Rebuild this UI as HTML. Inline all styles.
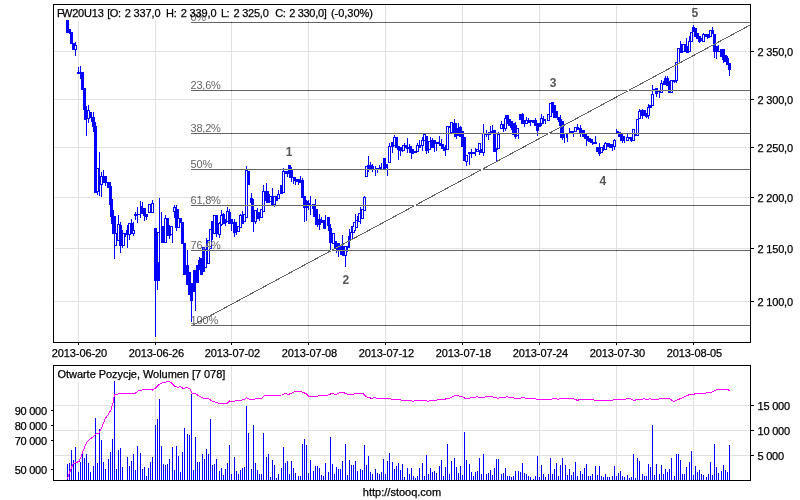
<!DOCTYPE html><html><head><meta charset="utf-8"><style>html,body{margin:0;padding:0;background:#fff;width:800px;height:500px;overflow:hidden}</style></head><body><svg width="800" height="500" viewBox="0 0 800 500" style="position:absolute;left:0;top:0;will-change:transform">
<rect x="0" y="0" width="800" height="500" fill="#fff"/>
<g shape-rendering="crispEdges">
<rect x="78" y="5" width="1" height="337" fill="#e0e0e0"/>
<rect x="78" y="366" width="1" height="114" fill="#e0e0e0"/>
<rect x="155" y="5" width="1" height="337" fill="#e0e0e0"/>
<rect x="155" y="366" width="1" height="114" fill="#e0e0e0"/>
<rect x="231" y="5" width="1" height="337" fill="#e0e0e0"/>
<rect x="231" y="366" width="1" height="114" fill="#e0e0e0"/>
<rect x="308" y="5" width="1" height="337" fill="#e0e0e0"/>
<rect x="308" y="366" width="1" height="114" fill="#e0e0e0"/>
<rect x="385" y="5" width="1" height="337" fill="#e0e0e0"/>
<rect x="385" y="366" width="1" height="114" fill="#e0e0e0"/>
<rect x="462" y="5" width="1" height="337" fill="#e0e0e0"/>
<rect x="462" y="366" width="1" height="114" fill="#e0e0e0"/>
<rect x="539" y="5" width="1" height="337" fill="#e0e0e0"/>
<rect x="539" y="366" width="1" height="114" fill="#e0e0e0"/>
<rect x="616" y="5" width="1" height="337" fill="#e0e0e0"/>
<rect x="616" y="366" width="1" height="114" fill="#e0e0e0"/>
<rect x="693" y="5" width="1" height="337" fill="#e0e0e0"/>
<rect x="693" y="366" width="1" height="114" fill="#e0e0e0"/>
<rect x="54" y="51" width="696" height="1" fill="#e0e0e0"/>
<rect x="54" y="99" width="696" height="1" fill="#e0e0e0"/>
<rect x="54" y="147" width="696" height="1" fill="#e0e0e0"/>
<rect x="54" y="197" width="696" height="1" fill="#e0e0e0"/>
<rect x="54" y="248" width="696" height="1" fill="#e0e0e0"/>
<rect x="54" y="301" width="696" height="1" fill="#e0e0e0"/>
<rect x="54" y="405" width="696" height="1" fill="#e0e0e0"/>
<rect x="54" y="430" width="696" height="1" fill="#e0e0e0"/>
<rect x="54" y="455" width="696" height="1" fill="#e0e0e0"/>
<rect x="54" y="5" width="325" height="16" fill="#fff"/>
<rect x="54" y="366" width="175" height="16" fill="#fff"/>
</g>
<g shape-rendering="crispEdges">
<path d="M75 42h1v14h-1zM78 67h1v7h-1zM80 66h1v8h-1zM86 110h1v26h-1zM88 105h1v18h-1zM91 112h1v10h-1zM93 112h1v8h-1zM97 168h1v27h-1zM99 152h1v44h-1zM101 172h1v25h-1zM103 170h1v10h-1zM105 176h1v10h-1zM114 225h1v34h-1zM118 215h1v9h-1zM120 222h1v31h-1zM122 230h1v18h-1zM127 225h1v23h-1zM129 224h1v16h-1zM131 219h1v15h-1zM133 222h1v14h-1zM135 212h1v8h-1zM137 207h1v16h-1zM140 201h1v17h-1zM142 202h1v12h-1zM144 208h1v13h-1zM146 214h1v6h-1zM152 200h1v11h-1zM155 228h1v109h-1zM157 281h1v9h-1zM161 212h1v14h-1zM159 198h1v65h-1zM165 215h1v28h-1zM169 225h1v14h-1zM172 226h1v17h-1zM174 205h1v7h-1zM176 205h1v26h-1zM187 250h1v25h-1zM191 301h1v21h-1zM195 292h1v19h-1zM199 257h1v13h-1zM206 238h1v11h-1zM216 225h1v12h-1zM219 222h1v16h-1zM221 210h1v16h-1zM223 213h1v11h-1zM225 219h1v7h-1zM227 207h1v15h-1zM229 209h1v13h-1zM231 219h1v12h-1zM234 219h1v18h-1zM236 222h1v13h-1zM240 214h1v14h-1zM242 211h1v13h-1zM246 166h1v52h-1zM251 193h1v10h-1zM253 222h1v10h-1zM255 212h1v12h-1zM257 208h1v11h-1zM259 212h1v9h-1zM263 185h1v27h-1zM266 183h1v20h-1zM272 188h1v14h-1zM274 196h1v11h-1zM278 190h1v9h-1zM283 168h1v25h-1zM287 171h1v6h-1zM291 169h1v13h-1zM293 178h1v6h-1zM295 178h1v7h-1zM298 179h1v6h-1zM300 176h1v7h-1zM302 178h1v20h-1zM304 196h1v26h-1zM306 200h1v21h-1zM308 200h1v10h-1zM310 196h1v19h-1zM315 199h1v10h-1zM317 209h1v18h-1zM319 214h1v16h-1zM321 217h1v6h-1zM325 215h1v14h-1zM330 228h1v23h-1zM336 241h1v12h-1zM338 246h1v11h-1zM342 235h1v20h-1zM345 246h1v21h-1zM347 246h1v6h-1zM349 229h1v19h-1zM351 226h1v14h-1zM355 214h1v17h-1zM357 216h1v12h-1zM360 207h1v17h-1zM364 196h1v15h-1zM368 156h1v16h-1zM370 162h1v7h-1zM372 164h1v8h-1zM375 166h1v10h-1zM377 168h1v5h-1zM379 165h1v5h-1zM381 163h1v6h-1zM387 164h1v12h-1zM389 143h1v20h-1zM392 142h1v11h-1zM394 135h1v11h-1zM398 146h1v14h-1zM400 147h1v9h-1zM402 145h1v7h-1zM404 143h1v5h-1zM407 138h1v15h-1zM409 144h1v5h-1zM411 149h1v10h-1zM417 143h1v9h-1zM419 140h1v8h-1zM422 137h1v14h-1zM426 136h1v18h-1zM428 141h1v12h-1zM430 137h1v11h-1zM432 138h1v10h-1zM434 140h1v12h-1zM436 142h1v9h-1zM439 136h1v10h-1zM441 139h1v10h-1zM445 145h1v11h-1zM454 119h1v15h-1zM456 123h1v16h-1zM458 123h1v13h-1zM460 126h1v11h-1zM466 155h1v11h-1zM469 152h1v13h-1zM471 149h1v9h-1zM475 148h1v8h-1zM479 143h1v12h-1zM483 124h1v32h-1zM486 130h1v7h-1zM488 133h1v7h-1zM490 126h1v9h-1zM492 125h1v9h-1zM496 148h1v13h-1zM498 132h1v17h-1zM501 121h1v8h-1zM503 124h1v8h-1zM505 115h1v16h-1zM511 121h1v9h-1zM515 122h1v17h-1zM518 128h1v11h-1zM522 113h1v11h-1zM524 120h1v7h-1zM526 117h1v7h-1zM528 118h1v5h-1zM530 120h1v6h-1zM535 118h1v8h-1zM537 123h1v13h-1zM541 114h1v12h-1zM543 116h1v8h-1zM545 119h1v5h-1zM552 102h1v11h-1zM558 117h1v5h-1zM560 115h1v6h-1zM562 133h1v7h-1zM564 134h1v9h-1zM567 134h1v8h-1zM569 128h1v6h-1zM573 131h1v6h-1zM577 124h1v6h-1zM580 125h1v12h-1zM586 133h1v13h-1zM592 139h1v6h-1zM595 136h1v8h-1zM599 143h1v13h-1zM603 145h1v6h-1zM605 142h1v8h-1zM612 144h1v7h-1zM614 139h1v11h-1zM616 129h1v4h-1zM622 136h1v7h-1zM624 136h1v7h-1zM627 134h1v7h-1zM631 137h1v5h-1zM639 109h1v10h-1zM642 109h1v10h-1zM646 113h1v5h-1zM648 104h1v15h-1zM652 85h1v21h-1zM656 88h1v9h-1zM659 90h1v8h-1zM661 80h1v13h-1zM665 76h1v8h-1zM667 76h1v10h-1zM674 80h1v3h-1zM676 62h1v21h-1zM680 41h1v12h-1zM686 38h1v14h-1zM689 36h1v16h-1zM693 25h1v7h-1zM699 36h1v7h-1zM703 33h1v9h-1zM707 34h1v5h-1zM712 27h1v7h-1zM714 34h1v24h-1zM716 46h1v13h-1zM718 45h1v7h-1zM723 49h1v14h-1zM727 56h1v9h-1zM729 63h1v13h-1zM66 20h3v13h-3zM69 29h2v5h-2zM70 32h3v12h-3zM72 43h3v7h-3zM77 72h3v2h-3zM80 72h2v7h-2zM81 72h3v18h-3zM83 88h3v22h-3zM84 106h3v14h-3zM90 112h2v6h-2zM92 117h3v10h-3zM93 122h3v10h-3zM94 126h3v67h-3zM98 180h2v6h-2zM103 176h4v7h-4zM107 182h4v6h-4zM109 186h3v6h-3zM109 190h3v15h-3zM110 199h3v18h-3zM111 210h3v14h-3zM112 216h4v18h-4zM119 225h3v21h-3zM124 233h2v4h-2zM126 230h2v5h-2zM130 223h3v11h-3zM134 214h3v2h-3zM138 214h3v1h-3zM140 206h3v8h-3zM143 208h3v8h-3zM145 214h3v3h-3zM154 228h3v53h-3zM157 263h3v18h-3zM161 226h3v17h-3zM166 218h3v18h-3zM169 227h2v9h-2zM174 207h3v11h-3zM176 209h3v11h-3zM175 213h3v15h-3zM179 218h3v5h-3zM181 222h3v22h-3zM183 243h3v32h-3zM186 265h3v20h-3zM188 272h3v23h-3zM190 283h3v18h-3zM193 270h3v22h-3zM196 265h3v18h-3zM195 270h3v5h-3zM200 258h3v17h-3zM202 247h3v25h-3zM211 221h2v19h-2zM215 215h3v19h-3zM222 214h3v10h-3zM228 212h3v12h-3zM230 219h3v5h-3zM233 222h2v11h-2zM235 222h2v11h-2zM241 216h3v8h-3zM247 171h3v14h-3zM250 198h3v5h-3zM251 199h3v23h-3zM257 212h3v7h-3zM264 191h3v10h-3zM266 191h3v12h-3zM268 194h2v9h-2zM271 196h3v9h-3zM275 196h3v5h-3zM280 185h3v9h-3zM285 171h4v3h-4zM288 165h3v7h-3zM289 167h3v11h-3zM290 169h3v9h-3zM293 177h3v4h-3zM296 179h3v3h-3zM298 179h3v4h-3zM301 180h3v18h-3zM303 196h3v12h-3zM305 201h3v7h-3zM307 203h4v3h-4zM312 204h3v5h-3zM313 206h3v11h-3zM315 209h3v16h-3zM318 219h3v6h-3zM321 220h3v3h-3zM323 220h3v9h-3zM327 217h3v9h-3zM328 224h3v7h-3zM329 228h3v15h-3zM334 241h3v7h-3zM337 243h3v7h-3zM340 245h3v10h-3zM342 246h3v10h-3zM367 165h3v4h-3zM369 165h3v4h-3zM371 166h3v3h-3zM375 168h5v2h-5zM379 167h3v2h-3zM383 158h3v11h-3zM385 164h3v4h-3zM391 142h3v5h-3zM395 137h3v11h-3zM397 146h3v4h-3zM399 147h3v4h-3zM404 145h3v3h-3zM406 147h3v2h-3zM409 146h3v7h-3zM411 149h3v5h-3zM414 151h3v2h-3zM418 145h3v3h-3zM425 136h3v15h-3zM431 140h3v8h-3zM433 140h3v4h-3zM436 142h4v2h-4zM439 143h3v3h-3zM441 144h3v5h-3zM443 147h3v4h-3zM448 126h3v2h-3zM452 123h3v11h-3zM454 123h3v14h-3zM457 128h3v8h-3zM459 127h3v10h-3zM461 131h3v16h-3zM463 137h3v24h-3zM470 152h4v2h-4zM473 152h3v2h-3zM480 149h3v4h-3zM485 133h3v2h-3zM488 132h3v3h-3zM491 131h3v3h-3zM493 130h3v22h-3zM495 148h3v2h-3zM506 115h3v9h-3zM508 119h3v7h-3zM510 121h3v7h-3zM512 123h3v12h-3zM514 125h3v12h-3zM519 114h3v6h-3zM521 114h3v10h-3zM522 120h3v3h-3zM527 120h3v3h-3zM532 120h3v3h-3zM534 120h3v6h-3zM536 123h3v8h-3zM538 123h3v4h-3zM543 119h3v2h-3zM551 102h3v11h-3zM553 105h3v13h-3zM555 111h3v7h-3zM557 117h3v3h-3zM559 119h3v7h-3zM560 121h4v17h-4zM562 133h3v5h-3zM566 134h2v4h-2zM569 131h3v3h-3zM571 131h3v3h-3zM576 127h3v3h-3zM579 128h3v5h-3zM582 130h3v7h-3zM584 133h3v6h-3zM586 136h3v5h-3zM588 138h3v4h-3zM590 139h3v4h-3zM593 142h4v2h-4zM596 147h3v5h-3zM598 148h3v6h-3zM607 143h3v4h-3zM609 144h4v4h-4zM616 131h3v2h-3zM618 132h3v5h-3zM620 134h3v7h-3zM622 136h3v5h-3zM628 137h3v2h-3zM630 137h3v4h-3zM634 133h3v3h-3zM640 110h3v6h-3zM643 110h3v6h-3zM645 113h3v4h-3zM649 105h3v3h-3zM653 89h3v2h-3zM655 88h3v6h-3zM657 90h3v2h-3zM663 81h3v4h-3zM664 78h3v6h-3zM666 78h3v8h-3zM668 81h3v12h-3zM673 80h3v2h-3zM680 44h3v9h-3zM684 44h3v8h-3zM686 46h3v7h-3zM692 27h3v5h-3zM694 28h3v9h-3zM696 33h3v6h-3zM698 36h3v6h-3zM700 38h3v3h-3zM705 34h3v3h-3zM707 34h3v4h-3zM711 30h3v4h-3zM713 34h3v18h-3zM715 46h3v6h-3zM718 51h3v1h-3zM720 49h3v8h-3zM722 49h3v11h-3zM724 55h3v7h-3zM726 58h3v7h-3zM728 63h3v7h-3z" fill="#0000ff"/>
<path d="M74 45h3v5h-3zM87 110h3v9h-3zM96 168h3v24h-3zM100 176h3v9h-3zM114 233h3v13h-3zM117 224h3v17h-3zM122 233h3v13h-3zM128 223h3v12h-3zM132 230h3v4h-3zM148 204h3v9h-3zM151 203h3v10h-3zM157 232h3v31h-3zM164 218h3v25h-3zM170 226h3v9h-3zM173 207h3v5h-3zM177 218h3v10h-3zM198 260h2v10h-2zM204 249h3v19h-3zM207 240h3v24h-3zM209 229h3v20h-3zM213 215h3v19h-3zM218 223h3v12h-3zM220 215h3v10h-3zM225 219h2v4h-2zM226 211h3v11h-3zM237 226h3v6h-3zM239 215h3v13h-3zM243 214h3v8h-3zM245 170h3v48h-3zM254 210h3v12h-3zM260 209h3v9h-3zM262 191h3v21h-3zM269 196h3v6h-3zM273 196h3v9h-3zM277 194h3v5h-3zM282 171h3v22h-3zM332 233h3v11h-3zM344 246h3v10h-3zM348 236h2v12h-2zM350 232h3v8h-3zM352 226h3v7h-3zM353 222h3v9h-3zM355 220h3v8h-3zM358 213h3v9h-3zM361 209h3v10h-3zM363 197h3v14h-3zM365 166h3v11h-3zM388 146h3v17h-3zM393 137h3v9h-3zM402 145h3v6h-3zM416 145h3v7h-3zM421 140h3v6h-3zM423 134h3v7h-3zM428 141h3v9h-3zM446 126h3v24h-3zM450 122h3v11h-3zM465 155h3v7h-3zM468 152h3v2h-3zM476 149h3v3h-3zM478 143h3v8h-3zM482 133h3v20h-3zM497 134h3v15h-3zM500 124h3v5h-3zM504 118h3v11h-3zM516 128h3v8h-3zM525 120h3v4h-3zM529 120h3v2h-3zM540 118h3v6h-3zM547 114h3v7h-3zM549 103h3v14h-3zM574 127h3v5h-3zM600 147h3v6h-3zM604 143h3v7h-3zM613 140h3v7h-3zM626 137h3v4h-3zM632 129h3v12h-3zM636 119h3v17h-3zM638 111h3v8h-3zM647 107h3v9h-3zM651 94h3v12h-3zM660 83h3v10h-3zM670 80h3v13h-3zM675 62h3v19h-3zM677 48h3v16h-3zM682 44h3v8h-3zM688 41h3v11h-3zM690 32h3v10h-3zM702 34h3v8h-3zM709 30h3v7h-3z" fill="#0000ff"/>
<path d="M75 46h1v3h-1zM88 111h1v7h-1zM97 169h1v22h-1zM101 177h1v7h-1zM115 234h1v11h-1zM118 225h1v15h-1zM123 234h1v11h-1zM129 224h1v10h-1zM133 231h1v2h-1zM149 205h1v7h-1zM152 204h1v8h-1zM158 233h1v29h-1zM165 219h1v23h-1zM171 227h1v7h-1zM174 208h1v3h-1zM178 219h1v8h-1zM205 250h1v17h-1zM208 241h1v22h-1zM210 230h1v18h-1zM214 216h1v17h-1zM219 224h1v10h-1zM221 216h1v8h-1zM227 212h1v9h-1zM238 227h1v4h-1zM240 216h1v11h-1zM244 215h1v6h-1zM246 171h1v46h-1zM255 211h1v10h-1zM261 210h1v7h-1zM263 192h1v19h-1zM270 197h1v4h-1zM274 197h1v7h-1zM278 195h1v3h-1zM283 172h1v20h-1zM333 234h1v9h-1zM345 247h1v8h-1zM351 233h1v6h-1zM353 227h1v5h-1zM354 223h1v7h-1zM356 221h1v6h-1zM359 214h1v7h-1zM362 210h1v8h-1zM364 198h1v12h-1zM366 167h1v9h-1zM389 147h1v15h-1zM394 138h1v7h-1zM403 146h1v4h-1zM417 146h1v5h-1zM422 141h1v4h-1zM424 135h1v5h-1zM429 142h1v7h-1zM447 127h1v22h-1zM451 123h1v9h-1zM466 156h1v5h-1zM477 150h1v1h-1zM479 144h1v6h-1zM483 134h1v18h-1zM498 135h1v13h-1zM501 125h1v3h-1zM505 119h1v9h-1zM517 129h1v6h-1zM526 121h1v2h-1zM541 119h1v4h-1zM548 115h1v5h-1zM550 104h1v12h-1zM575 128h1v3h-1zM601 148h1v4h-1zM605 144h1v5h-1zM614 141h1v5h-1zM627 138h1v2h-1zM633 130h1v10h-1zM637 120h1v15h-1zM639 112h1v6h-1zM648 108h1v7h-1zM652 95h1v10h-1zM661 84h1v8h-1zM671 81h1v11h-1zM676 63h1v17h-1zM678 49h1v14h-1zM683 45h1v6h-1zM689 42h1v9h-1zM691 33h1v8h-1zM703 35h1v6h-1zM710 31h1v5h-1z" fill="#fff"/>
<path d="M67 464h1v16h-1zM69 463h1v17h-1zM71 450h1v30h-1zM73 460h1v20h-1zM75 447h1v33h-1zM78 472h1v8h-1zM80 462h1v18h-1zM82 454h1v26h-1zM84 458h1v22h-1zM86 454h1v26h-1zM88 463h1v17h-1zM90 472h1v8h-1zM93 466h1v14h-1zM95 418h1v62h-1zM97 463h1v17h-1zM99 429h1v51h-1zM101 440h1v40h-1zM103 462h1v18h-1zM105 469h1v11h-1zM108 459h1v21h-1zM110 452h1v28h-1zM112 439h1v41h-1zM114 381h1v99h-1zM116 469h1v11h-1zM118 450h1v30h-1zM120 448h1v32h-1zM122 467h1v13h-1zM127 457h1v23h-1zM129 466h1v14h-1zM131 461h1v19h-1zM133 454h1v26h-1zM135 470h1v10h-1zM137 446h1v34h-1zM140 453h1v27h-1zM142 469h1v11h-1zM144 467h1v13h-1zM146 476h1v4h-1zM148 468h1v12h-1zM150 462h1v18h-1zM152 457h1v23h-1zM155 425h1v55h-1zM157 419h1v61h-1zM159 399h1v81h-1zM161 446h1v34h-1zM163 464h1v16h-1zM165 465h1v15h-1zM167 464h1v16h-1zM169 459h1v21h-1zM172 447h1v33h-1zM174 470h1v10h-1zM176 446h1v34h-1zM178 456h1v24h-1zM180 472h1v8h-1zM182 452h1v28h-1zM184 428h1v52h-1zM187 434h1v46h-1zM189 435h1v45h-1zM191 394h1v86h-1zM193 470h1v10h-1zM195 437h1v43h-1zM197 462h1v18h-1zM199 462h1v18h-1zM202 454h1v26h-1zM204 459h1v21h-1zM206 449h1v31h-1zM208 454h1v26h-1zM210 419h1v61h-1zM212 465h1v15h-1zM214 464h1v16h-1zM216 459h1v21h-1zM219 471h1v9h-1zM221 468h1v12h-1zM223 475h1v5h-1zM225 469h1v11h-1zM227 463h1v17h-1zM229 445h1v35h-1zM231 474h1v6h-1zM234 457h1v23h-1zM236 471h1v9h-1zM238 474h1v6h-1zM240 470h1v10h-1zM242 468h1v12h-1zM244 467h1v13h-1zM246 406h1v74h-1zM248 433h1v47h-1zM251 469h1v11h-1zM253 425h1v55h-1zM255 463h1v17h-1zM257 470h1v10h-1zM259 474h1v6h-1zM261 474h1v6h-1zM263 433h1v47h-1zM266 457h1v23h-1zM268 454h1v26h-1zM270 477h1v3h-1zM272 460h1v20h-1zM274 465h1v15h-1zM276 478h1v2h-1zM278 474h1v6h-1zM281 468h1v12h-1zM283 447h1v33h-1zM285 463h1v17h-1zM287 461h1v19h-1zM289 474h1v6h-1zM291 461h1v19h-1zM293 468h1v12h-1zM295 473h1v7h-1zM298 476h1v4h-1zM300 476h1v4h-1zM302 444h1v36h-1zM304 439h1v41h-1zM306 445h1v35h-1zM308 473h1v7h-1zM310 460h1v20h-1zM313 471h1v9h-1zM315 466h1v14h-1zM317 466h1v14h-1zM319 468h1v12h-1zM321 475h1v5h-1zM323 476h1v4h-1zM325 463h1v17h-1zM328 472h1v8h-1zM330 437h1v43h-1zM332 464h1v16h-1zM334 474h1v6h-1zM336 467h1v13h-1zM338 469h1v11h-1zM340 469h1v11h-1zM342 461h1v19h-1zM345 444h1v36h-1zM347 475h1v5h-1zM349 460h1v20h-1zM351 465h1v15h-1zM353 465h1v15h-1zM355 461h1v19h-1zM357 471h1v9h-1zM360 469h1v11h-1zM362 470h1v10h-1zM364 445h1v35h-1zM366 465h1v15h-1zM368 456h1v24h-1zM370 472h1v8h-1zM372 474h1v6h-1zM375 469h1v11h-1zM377 473h1v7h-1zM379 474h1v6h-1zM381 472h1v8h-1zM383 459h1v21h-1zM385 474h1v6h-1zM387 461h1v19h-1zM389 453h1v27h-1zM392 462h1v18h-1zM394 469h1v11h-1zM396 466h1v14h-1zM398 463h1v17h-1zM400 470h1v10h-1zM402 464h1v16h-1zM404 477h1v3h-1zM407 468h1v12h-1zM409 474h1v6h-1zM411 468h1v12h-1zM413 476h1v4h-1zM415 478h1v2h-1zM417 476h1v4h-1zM419 468h1v12h-1zM422 463h1v17h-1zM424 476h1v4h-1zM426 455h1v25h-1zM428 474h1v6h-1zM430 468h1v12h-1zM432 472h1v8h-1zM434 471h1v9h-1zM436 473h1v7h-1zM439 466h1v14h-1zM441 460h1v20h-1zM443 476h1v4h-1zM445 467h1v13h-1zM447 444h1v36h-1zM449 474h1v6h-1zM451 461h1v19h-1zM454 458h1v22h-1zM456 467h1v13h-1zM458 473h1v7h-1zM460 466h1v14h-1zM462 475h1v5h-1zM464 432h1v48h-1zM466 460h1v20h-1zM469 464h1v16h-1zM471 472h1v8h-1zM473 476h1v4h-1zM475 472h1v8h-1zM477 471h1v9h-1zM479 458h1v22h-1zM481 474h1v6h-1zM483 454h1v26h-1zM486 474h1v6h-1zM488 473h1v7h-1zM490 470h1v10h-1zM492 475h1v5h-1zM494 468h1v12h-1zM496 459h1v21h-1zM498 459h1v21h-1zM501 474h1v6h-1zM503 473h1v7h-1zM505 468h1v12h-1zM507 476h1v4h-1zM509 476h1v4h-1zM511 477h1v3h-1zM513 476h1v4h-1zM515 471h1v9h-1zM518 471h1v9h-1zM520 472h1v8h-1zM522 463h1v17h-1zM524 473h1v7h-1zM526 474h1v6h-1zM528 476h1v4h-1zM530 477h1v3h-1zM533 479h1v1h-1zM535 476h1v4h-1zM537 456h1v24h-1zM539 477h1v3h-1zM541 465h1v15h-1zM543 474h1v6h-1zM545 477h1v3h-1zM548 474h1v6h-1zM550 458h1v22h-1zM552 474h1v6h-1zM554 469h1v11h-1zM556 463h1v17h-1zM558 476h1v4h-1zM560 465h1v15h-1zM562 458h1v22h-1zM565 465h1v15h-1zM567 475h1v5h-1zM569 469h1v11h-1zM571 475h1v5h-1zM573 472h1v8h-1zM575 462h1v18h-1zM577 476h1v4h-1zM580 471h1v9h-1zM582 474h1v6h-1zM584 468h1v12h-1zM586 464h1v16h-1zM588 476h1v4h-1zM590 476h1v4h-1zM592 474h1v6h-1zM595 466h1v14h-1zM597 475h1v5h-1zM599 466h1v14h-1zM601 476h1v4h-1zM603 477h1v3h-1zM605 474h1v6h-1zM607 477h1v3h-1zM609 477h1v3h-1zM612 476h1v4h-1zM614 466h1v14h-1zM616 476h1v4h-1zM618 473h1v7h-1zM620 471h1v9h-1zM622 476h1v4h-1zM624 477h1v3h-1zM627 475h1v5h-1zM629 478h1v2h-1zM631 477h1v3h-1zM633 454h1v26h-1zM635 478h1v2h-1zM637 458h1v22h-1zM639 461h1v19h-1zM642 474h1v6h-1zM644 476h1v4h-1zM646 476h1v4h-1zM648 464h1v16h-1zM650 467h1v13h-1zM652 425h1v55h-1zM654 475h1v5h-1zM656 464h1v16h-1zM659 474h1v6h-1zM661 465h1v15h-1zM663 474h1v6h-1zM665 469h1v11h-1zM667 472h1v8h-1zM669 469h1v11h-1zM671 458h1v22h-1zM674 476h1v4h-1zM676 454h1v26h-1zM678 454h1v26h-1zM680 460h1v20h-1zM682 474h1v6h-1zM684 474h1v6h-1zM686 467h1v13h-1zM689 462h1v18h-1zM691 451h1v29h-1zM693 475h1v5h-1zM695 466h1v14h-1zM697 472h1v8h-1zM699 470h1v10h-1zM701 474h1v6h-1zM703 475h1v5h-1zM706 477h1v3h-1zM708 474h1v6h-1zM710 462h1v18h-1zM712 475h1v5h-1zM714 444h1v36h-1zM716 467h1v13h-1zM718 473h1v7h-1zM721 471h1v9h-1zM723 465h1v15h-1zM725 470h1v10h-1zM727 472h1v8h-1zM729 445h1v35h-1z" fill="#0000ff"/>
</g>
<g style="mix-blend-mode:difference">
<g shape-rendering="crispEdges">
<rect x="191" y="22" width="559" height="1" fill="#9b9b9b"/>
<rect x="191" y="90" width="559" height="1" fill="#9b9b9b"/>
<rect x="191" y="133" width="559" height="1" fill="#9b9b9b"/>
<rect x="191" y="169" width="559" height="1" fill="#9b9b9b"/>
<rect x="191" y="205" width="559" height="1" fill="#9b9b9b"/>
<rect x="191" y="250" width="559" height="1" fill="#9b9b9b"/>
<rect x="191" y="325" width="559" height="1" fill="#9b9b9b"/>
<line x1="191.5" y1="325.8" x2="750.5" y2="24.8" stroke="#9b9b9b" stroke-width="1"/>
</g>
<g font-family="Liberation Sans, sans-serif" font-size="11px">
<text x="190.6" y="20.5" fill="#999999" textLength="15.5" lengthAdjust="spacing">0%</text>
<text x="190.6" y="88.5" fill="#999999" textLength="30.2" lengthAdjust="spacing">23,6%</text>
<text x="190.6" y="131.5" fill="#999999" textLength="30.2" lengthAdjust="spacing">38,2%</text>
<text x="190.6" y="167.5" fill="#999999" textLength="21.6" lengthAdjust="spacing">50%</text>
<text x="190.6" y="203.5" fill="#999999" textLength="30.2" lengthAdjust="spacing">61,8%</text>
<text x="190.6" y="248.5" fill="#999999" textLength="30.2" lengthAdjust="spacing">76,4%</text>
<text x="190.6" y="323.5" fill="#999999" textLength="27.6" lengthAdjust="spacing">100%</text>
</g>
</g>
<rect x="627" y="90" width="2" height="1" fill="#fff" shape-rendering="crispEdges"/>
<rect x="548" y="133" width="2" height="1" fill="#fff" shape-rendering="crispEdges"/>
<rect x="481" y="169" width="2" height="1" fill="#fff" shape-rendering="crispEdges"/>
<rect x="414" y="205" width="2" height="1" fill="#fff" shape-rendering="crispEdges"/>
<rect x="330" y="250" width="2" height="1" fill="#fff" shape-rendering="crispEdges"/>
<polyline points="67.4,479 69,474 71,469 73,464 76,462.4 79,461.6 81,457 82.4,453 85,446 87,442 90,439 93,437 96,434 99,433 102,427 105,419 108,415 111,410 113,403 114.4,395 118,394 135,393.4 139,390.4 146,389.4 149,389 152.4,390 155,388.4 159,384.4 163,382.4 169,381.6 171,382.4 175,386.4 178,387.4 180,386.4 183,388.4 187,387.6 190,389 192,393 195,393.6 200,396.4 204,398.4 208,398.4 212,401 216,402.4 219,403.4 227,403.4 229.4,401 232,402 235,401 241,400.4 244.6,399.4 246.4,397.6 249,399 251.4,400 255,399 261.4,398.4 265,395.4 282,395 285,393.4 288.6,394.4 292,393 295,391.4 300,391.4 303,392.4 306,393.6 309,396.4 317,396.4 319,395.4 328,395 332,393.4 336,394.4 340,392.4 343,392.4 348,394.4 353,394.4 355,393.4 363,393.6 366.6,397 372,398.4 374.4,397.4 377,398.4 390,398.6 392,399.4 400,399.4 402,400.4 411,400.4 413,401.4 415,400.4 426,400.4 428,401.4 430,400.4 437,400 439,399.4 445,399.2 447,398.4 450,398 454,396 457,395 460,396.4 462,396.4 465,398.4 469,398.4 471,397.4 475,397.4 477,396.4 479,397.4 484,397.4 486,396.4 492,396.4 494,397.4 496,397.4 498,398.4 501,397.4 505,397.4 507,396.4 509,397.4 513,397.4 515,398.4 520,398.4 522,397.4 524,397.4 526,398.4 535,398.4 537,399.4 551,399.4 553,398.4 556,398.4 558,399.4 560,398.4 573,398.4 575,399.4 577.4,400.4 580,399.4 593,399.4 595,400.4 612,400.4 614,399.4 625,399.4 627,398.4 630,398.4 634,400.6 637,399.4 642,399.4 644,398.4 646,399.4 648,399.4 650,398.4 652,399.4 658,399.4 661,398.4 669,398.4 671.4,400 674,401.4 677,400 681,398.4 686,396 690,394.4 693,395 695,393.6 698,394 706,393 712,392 716,390 723,389.6 726,389 728,389.4 729.6,391.4" fill="none" stroke="#ff00ff" stroke-width="1" shape-rendering="crispEdges"/>
<g shape-rendering="crispEdges">
<rect x="53.5" y="4.5" width="697" height="338" fill="none" stroke="#000" stroke-width="1"/>
<rect x="53.5" y="365.5" width="697" height="115" fill="none" stroke="#000" stroke-width="1"/>
<rect x="78" y="343" width="1" height="2" fill="#000"/>
<rect x="155" y="343" width="1" height="2" fill="#000"/>
<rect x="231" y="343" width="1" height="2" fill="#000"/>
<rect x="308" y="343" width="1" height="2" fill="#000"/>
<rect x="385" y="343" width="1" height="2" fill="#000"/>
<rect x="462" y="343" width="1" height="2" fill="#000"/>
<rect x="539" y="343" width="1" height="2" fill="#000"/>
<rect x="616" y="343" width="1" height="2" fill="#000"/>
<rect x="693" y="343" width="1" height="2" fill="#000"/>
<rect x="751" y="51" width="3" height="1" fill="#000"/>
<rect x="751" y="99" width="3" height="1" fill="#000"/>
<rect x="751" y="147" width="3" height="1" fill="#000"/>
<rect x="751" y="197" width="3" height="1" fill="#000"/>
<rect x="751" y="248" width="3" height="1" fill="#000"/>
<rect x="751" y="301" width="3" height="1" fill="#000"/>
<rect x="751" y="405" width="3" height="1" fill="#000"/>
<rect x="751" y="430" width="3" height="1" fill="#000"/>
<rect x="751" y="455" width="3" height="1" fill="#000"/>
<rect x="51" y="410" width="2" height="1" fill="#000"/>
<rect x="51" y="425" width="2" height="1" fill="#000"/>
<rect x="51" y="440" width="2" height="1" fill="#000"/>
<rect x="51" y="469" width="2" height="1" fill="#000"/>
</g>
<g font-family="Liberation Sans, sans-serif" font-size="11px" fill="#000" stroke="#000" stroke-width="0.25">
<text x="57.1" y="16.5">F</text>
<text x="62" y="16.5" textLength="41.8" lengthAdjust="spacing">W20U13</text>
<text x="107.2" y="16.5" textLength="13.8" lengthAdjust="spacing">[O:</text>
<text x="124.7" y="16.5" textLength="35.8" lengthAdjust="spacing">2 337,0</text>
<text x="166.1" y="16.5" textLength="10.8" lengthAdjust="spacing">H:</text>
<text x="180.7" y="16.5" textLength="35.8" lengthAdjust="spacing">2 339,0</text>
<text x="221" y="16.5" textLength="8.6" lengthAdjust="spacing">L:</text>
<text x="233.4" y="16.5" textLength="35.4" lengthAdjust="spacing">2 325,0</text>
<text x="275.3" y="16.5" textLength="10.6" lengthAdjust="spacing">C:</text>
<text x="289.2" y="16.5" textLength="37.6" lengthAdjust="spacing">2 330,0]</text>
<text x="330.9" y="16.5" textLength="42" lengthAdjust="spacing">(-0,30%)</text>
<text x="57.5" y="377.5" textLength="167.8" lengthAdjust="spacing">Otwarte Pozycje, Wolumen [7 078]</text>
<text x="51.8" y="356.5" textLength="55.3" lengthAdjust="spacing">2013-06-20</text>
<text x="128.8" y="356.5" textLength="55.3" lengthAdjust="spacing">2013-06-26</text>
<text x="204.8" y="356.5" textLength="55.3" lengthAdjust="spacing">2013-07-02</text>
<text x="281.8" y="356.5" textLength="55.3" lengthAdjust="spacing">2013-07-08</text>
<text x="358.8" y="356.5" textLength="55.3" lengthAdjust="spacing">2013-07-12</text>
<text x="435.8" y="356.5" textLength="55.3" lengthAdjust="spacing">2013-07-18</text>
<text x="512.8" y="356.5" textLength="55.3" lengthAdjust="spacing">2013-07-24</text>
<text x="589.8" y="356.5" textLength="55.3" lengthAdjust="spacing">2013-07-30</text>
<text x="666.8" y="356.5" textLength="55.3" lengthAdjust="spacing">2013-08-05</text>
<text x="757.5" y="55.5" textLength="35.6" lengthAdjust="spacing">2 350,0</text>
<text x="757.5" y="103.5" textLength="35.6" lengthAdjust="spacing">2 300,0</text>
<text x="757.5" y="151.5" textLength="35.6" lengthAdjust="spacing">2 250,0</text>
<text x="757.5" y="201.5" textLength="35.6" lengthAdjust="spacing">2 200,0</text>
<text x="757.5" y="252.5" textLength="35.6" lengthAdjust="spacing">2 150,0</text>
<text x="757.5" y="305.5" textLength="35.6" lengthAdjust="spacing">2 100,0</text>
<text x="757.5" y="409.5" textLength="32.6" lengthAdjust="spacing">15 000</text>
<text x="757.5" y="434.5" textLength="32.6" lengthAdjust="spacing">10 000</text>
<text x="757.5" y="459.5" textLength="26.6" lengthAdjust="spacing">5 000</text>
<text x="14.7" y="414.5" textLength="32.4" lengthAdjust="spacing">90 000</text>
<text x="14.7" y="429.5" textLength="32.4" lengthAdjust="spacing">80 000</text>
<text x="14.7" y="444.5" textLength="32.4" lengthAdjust="spacing">70 000</text>
<text x="14.7" y="473.5" textLength="32.4" lengthAdjust="spacing">50 000</text>
<text x="402" y="495.6" text-anchor="middle">http://stooq.com</text>
<text x="289" y="155.8" text-anchor="middle" font-weight="bold" font-size="12px" fill="#555555" stroke="none">1</text>
<text x="345.9" y="283.8" text-anchor="middle" font-weight="bold" font-size="12px" fill="#555555" stroke="none">2</text>
<text x="553" y="86.8" text-anchor="middle" font-weight="bold" font-size="12px" fill="#555555" stroke="none">3</text>
<text x="602.9" y="184.8" text-anchor="middle" font-weight="bold" font-size="12px" fill="#555555" stroke="none">4</text>
<text x="694.9" y="16.8" text-anchor="middle" font-weight="bold" font-size="12px" fill="#555555" stroke="none">5</text>
</g>
</svg></body></html>
